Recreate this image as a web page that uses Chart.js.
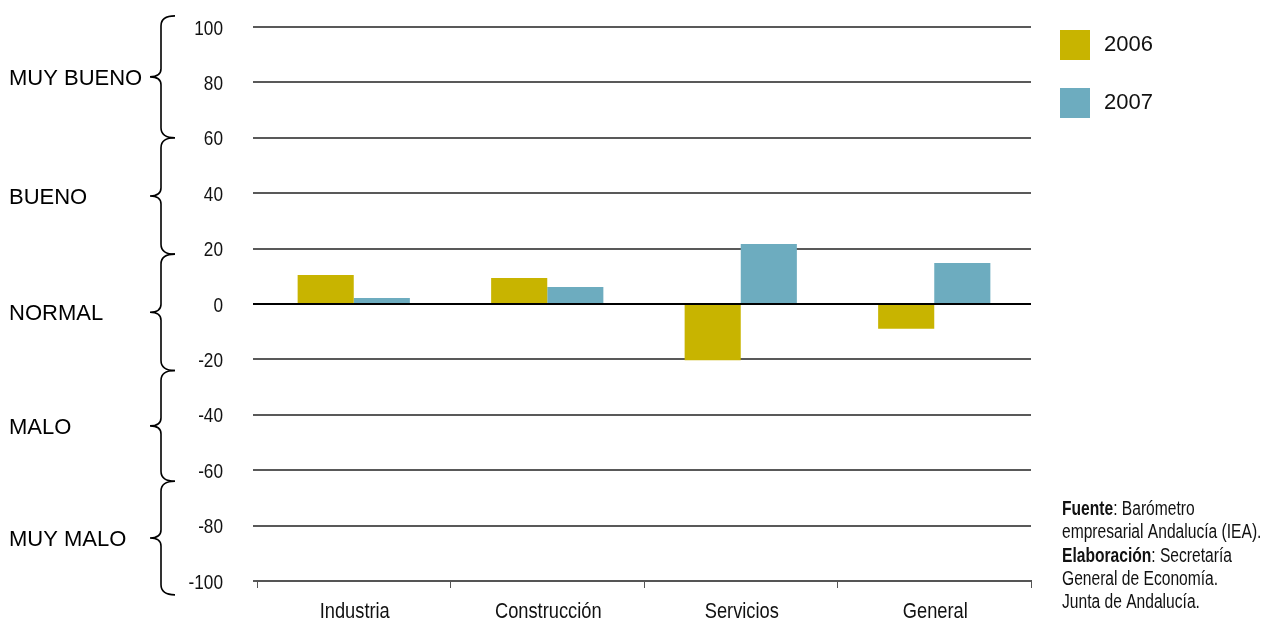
<!DOCTYPE html>
<html><head><meta charset="utf-8">
<script src="https://cdn.jsdelivr.net/npm/chart.js@4.4.1/dist/chart.umd.min.js"></script>
<style>html,body{margin:0;padding:0;background:#fff;}#wrap{width:1262px;height:620px;position:relative;}</style>
</head><body><div id="wrap"><canvas id="c" width="1262" height="620"></canvas></div>
<script>
const categories = ['Industria', 'Construcción', 'Servicios', 'General'];
const seriesNames = ['2006', '2007'];
const values2006 = [10.5, 9.4, -20.3, -8.9];
const values2007 = [2.2, 6.1, 21.7, 14.8];
const seriesColors = ['#C8B400', '#6DACBF'];
const yTicks = [100, 80, 60, 40, 20, 0, -20, -40, -60, -80, -100];
const yTickLabels = ['100', '80', '60', '40', '20', '0', '-20', '-40', '-60', '-80', '-100'];
const ratingLabels = ['MUY BUENO', 'BUENO', 'NORMAL', 'MALO', 'MUY MALO'];
const ratingFrom = [104, 60, 18, -24, -64];
const ratingTo = [60, 18, -24, -64, -105];
const sourceLines = [
  [['Fuente', true], [': Barómetro', false]],
  [['empresarial Andalucía (IEA).', false]],
  [['Elaboración', true], [': Secretaría', false]],
  [['General de Economía.', false]],
  [['Junta de Andalucía.', false]]
];

const SANS = '"Liberation Sans", Arial, sans-serif';

function narrowText(ctx, text, x, y, sx, align) {
  ctx.save();
  ctx.translate(x, y);
  ctx.scale(sx, 1);
  ctx.textAlign = align;
  ctx.fillText(text, 0, 0);
  ctx.restore();
}

const extras = {
  id: 'extras',
  afterDraw(chart) {
    const ctx = chart.ctx;
    const y = chart.scales.y;
    const x = chart.scales.x;
    ctx.save();
    ctx.fillStyle = '#111';
    ctx.font = '20px ' + SANS;
    ctx.textBaseline = 'middle';
    y.ticks.forEach((t) => {
      const idx = yTicks.indexOf(t.value);
      narrowText(ctx, yTickLabels[idx], 223, y.getPixelForValue(t.value) + 2, 0.86, 'right');
    });
    ctx.font = '22px ' + SANS;
    ctx.textBaseline = 'alphabetic';
    categories.forEach((c, i) => {
      narrowText(ctx, c, x.getPixelForValue(i) + 1, 618, 0.83, 'center');
    });
    ctx.strokeStyle = '#000';
    ctx.lineWidth = 1.6;
    ctx.fillStyle = '#000';
    ctx.font = '22px ' + SANS;
    ctx.textBaseline = 'middle';
    ctx.textAlign = 'left';
    for (let i = 0; i < ratingLabels.length; i++) {
      const t = y.getPixelForValue(ratingFrom[i]);
      const b = y.getPixelForValue(ratingTo[i]);
      const m = (t + b) / 2;
      const xe = 175, xl = 161, xm = 150;
      ctx.beginPath();
      ctx.moveTo(xe, t);
      ctx.quadraticCurveTo(xl, t, xl, t + 10);
      ctx.lineTo(xl, m - 8);
      ctx.quadraticCurveTo(xl, m, xm, m);
      ctx.quadraticCurveTo(xl, m, xl, m + 8);
      ctx.lineTo(xl, b - 10);
      ctx.quadraticCurveTo(xl, b, xe, b);
      ctx.stroke();
      ctx.fillText(ratingLabels[i], 9, m + 2);
    }
    const ds = chart.data.datasets;
    ctx.font = '22px ' + SANS;
    for (let i = 0; i < ds.length; i++) {
      const top = 30 + i * 58;
      ctx.fillStyle = ds[i].backgroundColor;
      ctx.fillRect(1060, top, 30, 30);
      ctx.fillStyle = '#111';
      ctx.fillText(ds[i].label, 1104, top + 15);
    }
    ctx.textBaseline = 'alphabetic';
    for (let i = 0; i < sourceLines.length; i++) {
      let xx = 1062;
      const yy = 515 + i * 23.3;
      for (const [txt, bold] of sourceLines[i]) {
        ctx.font = (bold ? 'bold ' : '') + '20px ' + SANS;
        ctx.fillStyle = '#111';
        narrowText(ctx, txt, xx, yy, 0.78, 'left');
        xx += ctx.measureText(txt).width * 0.78;
      }
    }
    ctx.restore();
  }
};

new Chart(document.getElementById('c'), {
  type: 'bar',
  data: {
    labels: categories,
    datasets: [
      { label: seriesNames[0], data: values2006, backgroundColor: seriesColors[0] },
      { label: seriesNames[1], data: values2007, backgroundColor: seriesColors[1] }
    ]
  },
  options: {
    responsive: false,
    animation: false,
    layout: { padding: { top: 27, right: 231, left: 0, bottom: 0 } },
    plugins: { legend: { display: false }, tooltip: { enabled: false } },
    datasets: { bar: { categoryPercentage: 0.58, barPercentage: 1.0 } },
    scales: {
      x: {
        offset: true,
        grid: { offset: true, drawOnChartArea: false, drawTicks: true, tickLength: 7, color: '#555', lineWidth: 1 },
        border: { display: true, color: '#555', width: 2 },
        ticks: { display: false },
        afterFit(s) { s.height = 39; }
      },
      y: {
        min: -100, max: 100,
        afterBuildTicks(s) { s.ticks = yTicks.map(v => ({ value: v })); },
        grid: {
          tickLength: 4,
          color: c => (c.tick && c.tick.value === 0) ? '#000' : '#595959',
          lineWidth: 2
        },
        border: { display: false },
        ticks: { display: false },
        afterFit(s) { s.width = 257; }
      }
    }
  },
  plugins: [extras]
});
</script>
</body></html>
